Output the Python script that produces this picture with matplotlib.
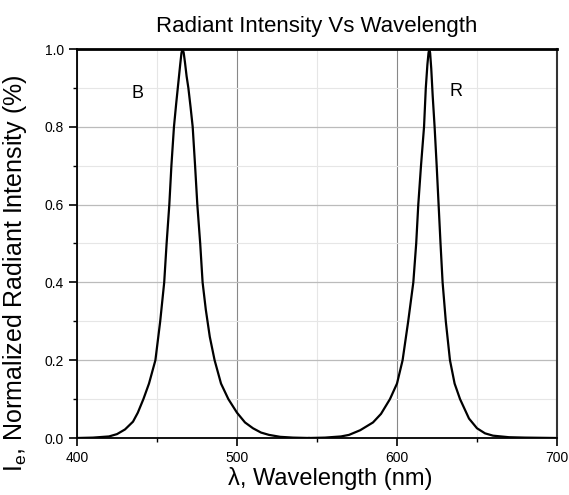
import matplotlib.pyplot as plt
from matplotlib.ticker import MultipleLocator

plt.rcParams['font.family'] = ['Liberation Sans', 'DejaVu Sans']
plt.rcParams['mathtext.fontset'] = 'custom'
plt.rcParams['mathtext.rm'] = 'Liberation Sans'
plt.rcParams['mathtext.it'] = 'Liberation Sans:italic'

# blue LED peak (nm, normalized intensity)
blue_wl = [400, 410, 420, 425, 430, 435, 438, 441.5, 445, 449, 452, 454.5, 456,
           457.7, 459, 460.6, 462, 463.5, 464.5, 465.3, 466, 466.7, 467.5,
           468.5, 469.6, 471, 472.3, 473.8, 475.2, 477, 478.5, 480.5, 483, 486,
           490, 494.6, 500, 505, 510, 515, 520, 527, 535, 545]
blue_int = [0.0, 0.001, 0.004, 0.01, 0.022, 0.042, 0.065, 0.1, 0.14, 0.2, 0.3,
            0.4, 0.5, 0.6, 0.7, 0.8, 0.86, 0.92, 0.96, 0.99, 1.0, 0.99, 0.965,
            0.93, 0.9, 0.85, 0.8, 0.7, 0.6, 0.5, 0.4, 0.33, 0.26, 0.2, 0.14,
            0.1, 0.065, 0.04, 0.025, 0.014, 0.008, 0.003, 0.001, 0.0]

# red LED peak
red_wl = [545, 555, 565, 570, 577, 585, 590, 595.6, 600, 603.5, 607, 610.2,
          612, 613.3, 615, 616.9, 618, 619, 619.7, 620.2, 620.7, 621.4, 622.3,
          623.5, 624.8, 626, 627.2, 628.5, 630.5, 633.1, 636, 639.4, 645, 650,
          655, 660, 670, 680, 700]
red_int = [0.0, 0.001, 0.004, 0.008, 0.02, 0.04, 0.062, 0.1, 0.14, 0.2, 0.3,
           0.4, 0.5, 0.6, 0.7, 0.8, 0.9, 0.96, 0.99, 1.0, 0.99, 0.95, 0.88,
           0.8, 0.7, 0.6, 0.5, 0.4, 0.3, 0.2, 0.14, 0.1, 0.05, 0.025, 0.012,
           0.006, 0.002, 0.001, 0.0]

x_ticks = [400, 500, 600, 700]
y_ticks = [0.0, 0.2, 0.4, 0.6, 0.8, 1.0]

fig = plt.figure(figsize=(5.69, 4.95), dpi=100)
ax = fig.add_axes([77 / 569, 1 - 438 / 495, 480 / 569, 389 / 495])

ax.plot(blue_wl, blue_int, color='black', linewidth=1.6)
ax.plot(red_wl, red_int, color='black', linewidth=1.6)

ax.set_xlim(400, 700)
ax.set_ylim(0, 1.0)
ax.set_xticks(x_ticks)
ax.set_yticks(y_ticks)
ax.set_yticklabels([f'{v:.1f}' for v in y_ticks])
ax.xaxis.set_minor_locator(MultipleLocator(50))
ax.yaxis.set_minor_locator(MultipleLocator(0.1))

ax.grid(which='major', axis='x', color='#888888', linewidth=0.8)
ax.grid(which='major', axis='y', color='#bbbbbb', linewidth=0.9)
ax.grid(which='minor', color='#e6e6e6', linewidth=0.8)
ax.set_axisbelow(True)

ax.tick_params(which='major', direction='out', length=5.5, width=1.2,
               labelsize=10, pad=4, top=False, right=False)
ax.tick_params(which='minor', direction='out', length=3, width=1.0,
               top=False, right=False)

for side in ['left', 'bottom']:
    ax.spines[side].set_linewidth(1.3)
ax.spines['top'].set_linewidth(2.0)
ax.spines['right'].set_linewidth(1.5)
ax.spines['right'].set_color('#333333')

ax.text(438, 0.886, 'B', fontsize=13, ha='center', va='center')
ax.text(637, 0.89, 'R', fontsize=13, ha='center', va='center')

ax.set_title('Radiant Intensity Vs Wavelength', fontsize=16, pad=12)
ax.set_xlabel('λ, Wavelength (nm)', fontsize=17, labelpad=3)
ax.xaxis.set_label_coords(0.527, -0.075)
ax.set_ylabel(r'I$_\mathrm{e}$, Normalized Radiant Intensity (%)', fontsize=18)
ax.yaxis.set_label_coords(-0.1, 0.423)

fig.savefig('out.png', dpi=100)
